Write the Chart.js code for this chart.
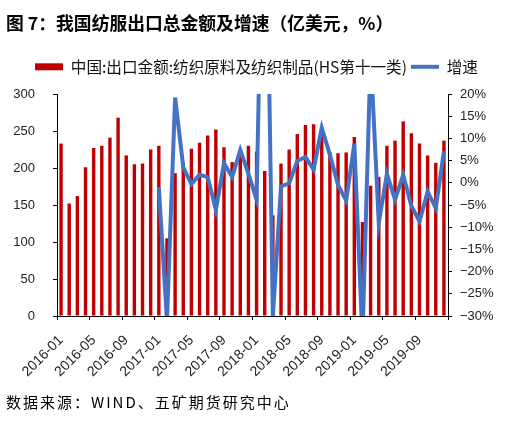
<!DOCTYPE html>
<html><head><meta charset="utf-8">
<script src="https://cdn.jsdelivr.net/npm/chart.js@4.4.1/dist/chart.umd.min.js"></script>
<style>
html,body{margin:0;padding:0;background:#fff;}
#wrap{position:relative;width:528px;height:423px;overflow:hidden;}
#title{position:absolute;left:6px;top:11px;font:bold 17.8px/22px "Noto Sans CJK SC";color:#000;white-space:nowrap;}
#src{position:absolute;left:6px;top:391px;font:15px/22px "Noto Sans CJK SC";letter-spacing:2px;color:#000;white-space:nowrap;}
canvas{position:absolute;left:0;top:0;}
</style></head><body>
<div id="wrap">
<canvas id="c" width="528" height="423"></canvas>
<div id="title">图 7：我国纺服出口总金额及增速（亿美元，%）</div>
<div id="src">数据来源：WIND、五矿期货研究中心</div>
</div>
<script>
const months = [
 '2016-01','2016-02','2016-03','2016-04','2016-05','2016-06','2016-07','2016-08','2016-09','2016-10','2016-11','2016-12',
 '2017-01','2017-02','2017-03','2017-04','2017-05','2017-06','2017-07','2017-08','2017-09','2017-10','2017-11','2017-12',
 '2018-01','2018-02','2018-03','2018-04','2018-05','2018-06','2018-07','2018-08','2018-09','2018-10','2018-11','2018-12',
 '2019-01','2019-02','2019-03','2019-04','2019-05','2019-06','2019-07','2019-08','2019-09','2019-10','2019-11','2019-12'
];
const xTickLabels = ['2016-01','2016-05','2016-09','2017-01','2017-05','2017-09','2018-01','2018-05','2018-09','2019-01','2019-05','2019-09'];
const exportValue = [
 233,152,162,201,227,230,241,268,217,205,206,225,
 230,105,193,207,226,234,244,252,228,208,221,230,
 222,196,136,206,225,246,258,259,255,221,220,221,
 242,127,176,188,230,237,263,247,233,217,207,237
];
const growthRate = [
 null,null,null,null,null,null,null,null,null,null,null,null,
 -1.0,-31,19.2,3.5,-0.3,1.8,1.3,-6.1,4.4,1.3,7.4,2.0,
 -3.8,87,-30,-0.8,-0.1,4.9,5.8,3.0,12.4,6.3,-0.5,-4.0,
 8.8,-35,29,-9.0,2.0,-3.8,1.8,-5.2,-8.7,-2.0,-5.7,7.1
];
const barLabel = '中国:出口金额:纺织原料及纺织制品(HS第十一类)';
const lineLabel = '增速';

const PAD_TOP = 55, LEG_P = 4, PLOT_TOP = 94;
const legendFit = {
  id: 'legendFit',
  afterInit(chart) {
    const lg = chart.legend; if (!lg) return;
    const f = lg.fit.bind(lg);
    lg.fit = function () { f(); this.height = PLOT_TOP - PAD_TOP; };
  }
};

Chart.defaults.font.family = '"Liberation Sans", Arial, sans-serif';
const tickFont = {family: '"Liberation Sans", Arial, sans-serif', size: 13};

new Chart(document.getElementById('c'), {
  type: 'bar',
  data: {
    labels: months,
    datasets: [
      {type: 'line', label: lineLabel, data: growthRate, yAxisID: 'y1',
       borderColor: '#4472C4', backgroundColor: '#4472C4', borderWidth: 4,
       pointRadius: 0, pointHoverRadius: 0, pointStyle: 'line', tension: 0, spanGaps: false},
      {type: 'bar', label: barLabel, data: exportValue, yAxisID: 'y',
       backgroundColor: '#C00000', borderWidth: 0, pointStyle: 'rect',
       barPercentage: 0.42, categoryPercentage: 1}
    ]
  },
  options: {
    responsive: false, animation: false,
    layout: {padding: {top: PAD_TOP, left: 0, right: 15, bottom: 0}},
    plugins: {
      tooltip: {enabled: false},
      legend: {position: 'top', align: 'center', reverse: true,
        labels: {usePointStyle: true, pointStyleWidth: 28, boxHeight: 7, padding: LEG_P,
          color: '#111', font: {family: '"Noto Sans CJK SC"', size: 15.6}}}
    },
    scales: {
      x: {type: 'category', offset: true,
        grid: {offset: true, drawOnChartArea: false, drawTicks: true, tickLength: 4,
          color: (c) => (c.index === undefined || c.index % 4 === 0) ? '#000' : 'rgba(0,0,0,0)'},
        border: {color: '#000', width: 1},
        ticks: {autoSkip: false, minRotation: 45, maxRotation: 45, padding: 12, color: '#222',
          font: {family: '"Liberation Sans", Arial, sans-serif', size: 14},
          callback: (v, i) => xTickLabels.includes(months[i]) ? months[i] : ''},
        afterFit: (s) => { s.height = 107; }
      },
      y: {position: 'left', min: 0, max: 300,
        grid: {drawOnChartArea: false, drawTicks: true, tickLength: 4, color: '#000'},
        border: {color: '#000', width: 1},
        ticks: {stepSize: 50, padding: 18, color: '#222', font: tickFont},
        afterFit: (s) => { s.width = 57; }
      },
      y1: {position: 'right', min: -30, max: 20,
        grid: {drawOnChartArea: false, drawTicks: true, tickLength: 4, color: '#000'},
        border: {color: '#000', width: 1},
        ticks: {stepSize: 5, padding: 8, color: '#222', font: tickFont,
          callback: (v) => (v < 0 ? '\u2212' + (-v) : v) + '%'},
        afterFit: (s) => { s.width = 65; }
      }
    }
  },
  plugins: [legendFit]
});
</script>
</body></html>
